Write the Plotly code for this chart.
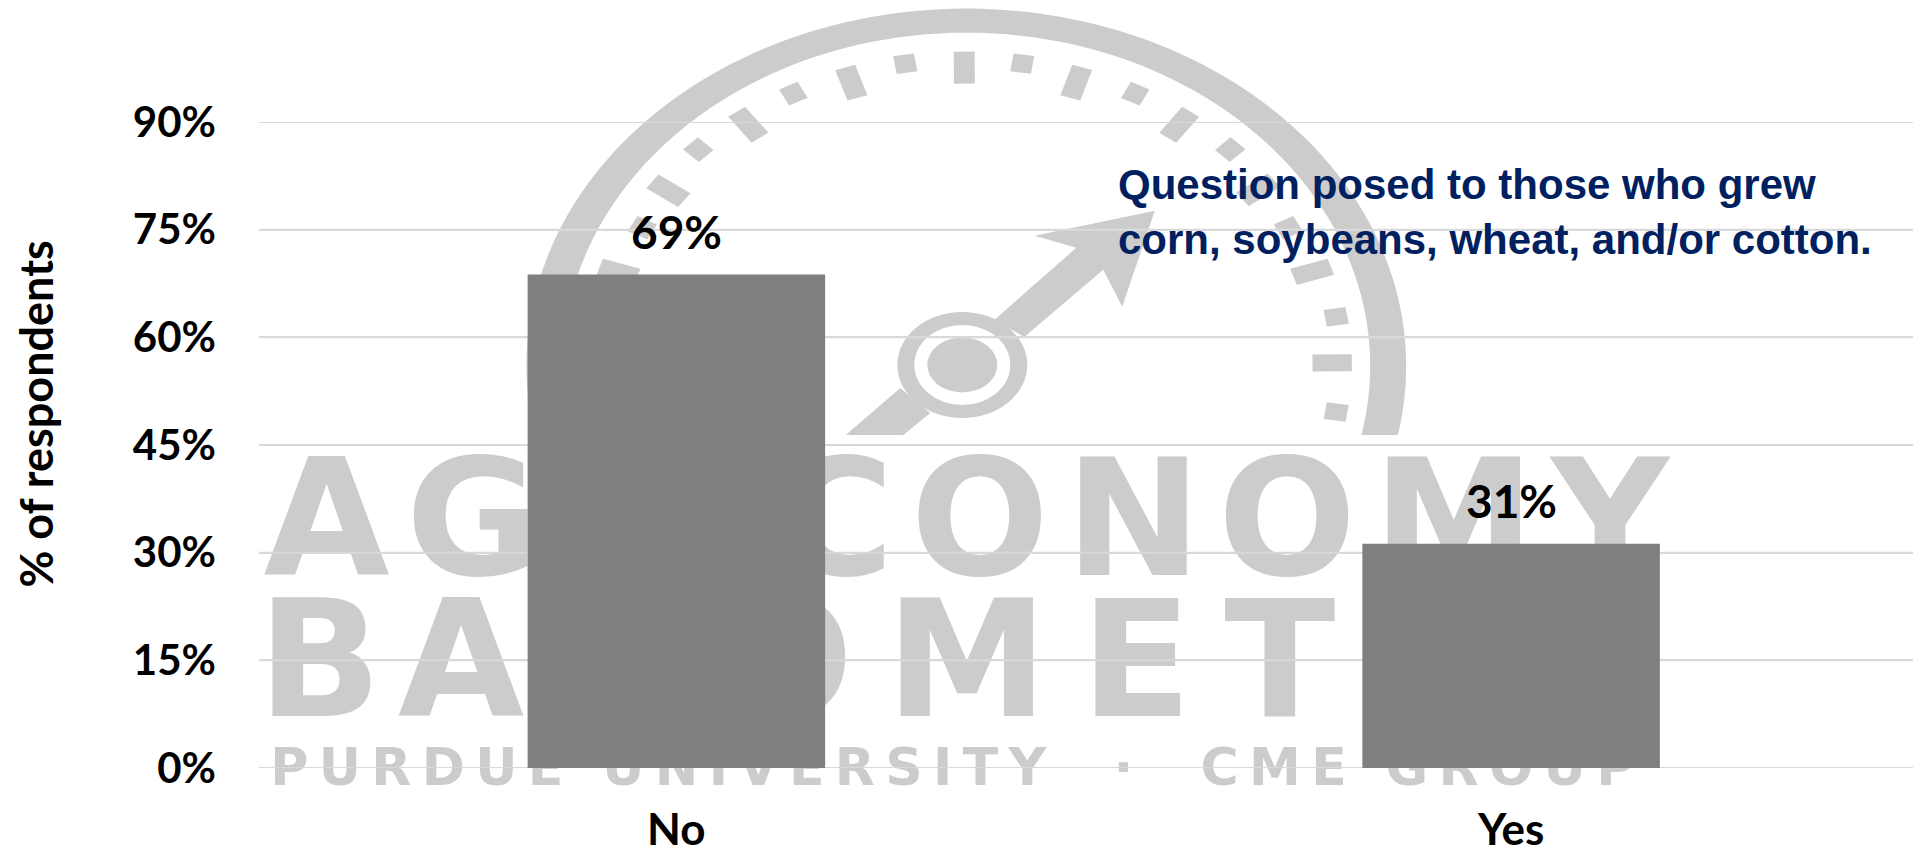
import numpy as np
import plotly.graph_objects as go

# ---- chart data ----
categories = ["No", "Yes"]
respondents_pct = [68.75, 31.25]
y_tick_values = [0, 15, 30, 45, 60, 75, 90]
y_tick_labels = ["0%", "15%", "30%", "45%", "60%", "75%", "90%"]
y_title = "% of respondents"
note_lines = ["Question posed to those who grew", "corn, soybeans, wheat, and/or cotton."]
watermark_lines = ["AGRICONOMY", "BAROMETER", "PURDUE UNIVERSITY  ·  CME GROUP"]

# ---- page geometry (pixels) ----
W, H = 1913, 849
LEFT, TOP, BASE = 258.5, 122.3, 767.7
BAND = 835.0
GREY = "#CCCCCC"
GRID = "#D9D9D9"
BAR = "#7F7F7F"
NAVY = "#002060"
BODY = "Lato, Carlito, sans-serif"


def px(x):
    return (np.asarray(x, float) - LEFT) / (W - LEFT)


def py(y):
    return (BASE - np.asarray(y, float)) / (BASE - TOP)


def y_val(y):
    return (BASE - y) / (BASE - TOP) * 90


def poly(pts, color=GREY):
    pts = np.asarray(pts, float)
    xs, ys = px(pts[:, 0]), py(pts[:, 1])
    d = "M" + "L".join(f"{a:.5f},{b:.5f}" for a, b in zip(xs, ys)) + "Z"
    return dict(type="path", path=d, xref="paper", yref="paper", layer="below",
                fillcolor=color, line=dict(width=0))


def ellipse(cx, cy, rx, ry, color):
    return dict(type="circle", xref="paper", yref="paper", layer="below",
                x0=float(px(cx - rx)), x1=float(px(cx + rx)),
                y0=float(py(cy + ry)), y1=float(py(cy - ry)),
                fillcolor=color, line=dict(width=0))


# ---- gauge watermark ----
CX, CY, STRETCH = 966.0, 366.0, 1.23
shapes = []

end = 435.0
a_out = np.arcsin((end - CY) / 357.0)
a_in = np.arcsin((end - CY) / 333.0)
t_out = np.linspace(np.pi - a_out, 2 * np.pi + a_out, 160)
t_in = np.linspace(2 * np.pi + a_in, np.pi - a_in, 160)
ring = np.r_[np.c_[CX + 440 * np.cos(t_out), CY + 357 * np.sin(t_out)],
             np.c_[CX + 404 * np.cos(t_in), CY + 333 * np.sin(t_in)]]
shapes.append(poly(ring))

gauge_ticks = [
    (964, 68, 1), (905, 64, 0), (851, 83, 1), (793, 94, 0), (748, 125, 1), (698, 150, 0),
    (668, 191, 1), (642, 228, 0), (618, 272, 1),
    (1022, 64, 0), (1076, 83, 1), (1135, 94, 0), (1179, 125, 1), (1230, 150, 0),
    (1258, 190, 1), (1288, 228, 0), (1312, 272, 1), (1336, 317, 0), (1332, 363, 1), (1336, 412, 0),
]
for tx, ty, long_tick in gauge_ticks:
    u, v = (tx - CX) / STRETCH, ty - CY
    n = np.hypot(u, v)
    ru, rv = u / n, v / n
    su, sv = -rv, ru
    half_l = 16 if long_tick else 9
    half_w = 8.5
    corners = []
    for a, b in [(half_l, half_w), (half_l, -half_w), (-half_l, -half_w), (-half_l, half_w)]:
        cu, cv = u + a * ru + b * su, v + a * rv + b * sv
        corners.append((CX + cu * STRETCH, CY + cv))
    shapes.append(poly(corners))

# needle
shapes.append(poly([(994, 320), (1076, 248), (1034.5, 236), (1154.5, 211),
                    (1122, 307), (1103, 270), (1024, 337)]))
shapes.append(poly([(900, 388), (845.5, 435), (903, 435), (930, 413)]))
shapes.append(ellipse(962, 365, 65, 53, GREY))
shapes.append(ellipse(962, 365, 48, 40, "#FFFFFF"))
shapes.append(ellipse(962, 365, 35, 27.5, GREY))

HAIR = "\u200a"


def spaced(s, sep=HAIR, wide_after=()):
    out = ""
    for i, ch in enumerate(s):
        out += ch
        if i < len(s) - 1:
            out += sep * (2 if i in wide_after else 1)
    return out


fig = go.Figure()

# ---- wordmark (base subplot, underneath the bars) ----
wm_x = [966, 939, 952]
wm_y = [534, 675, 746]
wm_pos = ["middle center", "middle center", "bottom center"]
wm_size = [163, 163, 52]
wm_text = [
    spaced(watermark_lines[0]),
    spaced(watermark_lines[1], wide_after=(1, 2, 3, 4, 5, 7)),
    spaced(watermark_lines[2], sep=HAIR * 2),
]
for t, x, y, s, p in zip(wm_text, wm_x, wm_y, wm_size, wm_pos):
    fig.add_trace(go.Scatter(
        x=[x], y=[y_val(y)], mode="text", text=[t], textposition=p,
        textfont=dict(family="DejaVu Sans", size=s, color=GREY, weight="bold"),
        cliponaxis=False, hoverinfo="skip", showlegend=False, xaxis="x", yaxis="y"))

# gridlines redrawn over the wordmark
gx, gy = [], []
for v in y_tick_values:
    gx += [LEFT, W, None]
    gy += [v, v, None]
fig.add_trace(go.Scatter(x=gx, y=gy, mode="lines", line=dict(color=GRID, width=2),
                         hoverinfo="skip", showlegend=False, cliponaxis=False,
                         xaxis="x", yaxis="y"))

# ---- bars ----
fig.add_trace(go.Bar(x=categories, y=respondents_pct, marker=dict(color=BAR, line=dict(width=0)),
                     width=297.6 / BAND, showlegend=False, xaxis="x2", yaxis="y"))

annotations = []
for c, v in zip(categories, respondents_pct):
    annotations.append(dict(x=c, y=v, xref="x2", yref="y", text=f"<b>{v:.0f}%</b>", showarrow=False,
                            yanchor="bottom", yshift=14,
                            font=dict(family=BODY, size=46, color="#000000")))
annotations.append(dict(x=float(px(35)), y=float(py(414)), xref="paper", yref="paper", xanchor="center",
                        yanchor="middle", text=f"<b>{y_title}</b>", textangle=-90, showarrow=False,
                        font=dict(family=BODY, size=45, color="#000000")))
annotations.append(dict(x=float(px(1116)), y=float(py(212)), xref="paper", yref="paper", xanchor="left",
                        yanchor="middle", align="left", showarrow=False,
                        text="<b>" + "<br>".join(note_lines) + "</b>",
                        font=dict(family="Liberation Sans", size=42, color=NAVY)))

fig.update_layout(
    width=W, height=H, autosize=False,
    margin=dict(l=LEFT, r=0, t=TOP, b=H - BASE, pad=0, autoexpand=False),
    paper_bgcolor="#FFFFFF", plot_bgcolor="rgba(0,0,0,0)",
    showlegend=False, shapes=shapes, annotations=annotations,
    xaxis=dict(range=[LEFT, W], visible=False, fixedrange=True, automargin=False),
    xaxis2=dict(overlaying="x", anchor="y", side="bottom", type="category",
                categoryorder="array", categoryarray=categories, automargin=False,
                range=[-0.5, (W - LEFT) / BAND - 0.5], showgrid=False, showline=False, zeroline=False,
                ticks="", ticklabelstandoff=32,
                tickfont=dict(family=BODY, size=44, color="#000000", weight="bold")),
    yaxis=dict(range=[0, 90], tickvals=y_tick_values, ticktext=y_tick_labels, automargin=False,
               showgrid=True, gridcolor=GRID, gridwidth=2, zeroline=False, showline=False,
               ticks="", ticklabelstandoff=42,
               tickfont=dict(family=BODY, size=42, color="#000000", weight="bold")),
)

fig.write_html("out.html", config={"displayModeBar": False},
               post_script="document.body.style.margin='0';document.documentElement.style.overflow='hidden';")
